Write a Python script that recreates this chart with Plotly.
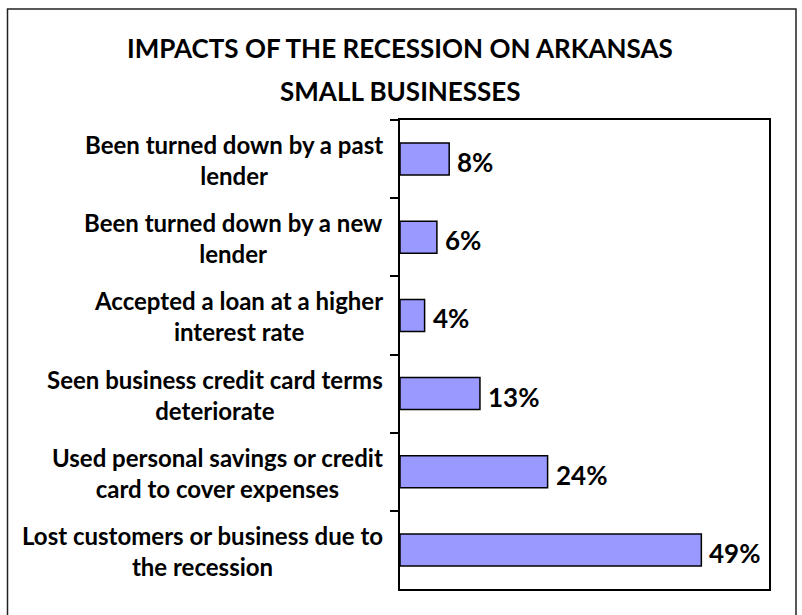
import plotly.graph_objects as go

# Survey results: share of Arkansas small businesses reporting each impact
categories = [
    "Been turned down by a past<br>lender",
    "Been turned down by a new<br>lender",
    "Accepted a loan at a higher<br>interest rate",
    "Seen business credit card terms<br>deteriorate",
    "Used personal savings or credit<br>card to cover expenses",
    "Lost customers or business due to<br>the recession",
]
values = [8, 6, 4, 13, 24, 49]
value_labels = ["8%", "6%", "4%", "13%", "24%", "49%"]
title_lines = ["IMPACTS OF THE RECESSION ON ARKANSAS", "SMALL BUSINESSES"]

W, H = 802, 615
L, R, T, B = 400, 33, 120, 26
PW, PH = W - L - R, H - T - B
FONT = "Lato"


def px_x(p):
    return (p - L) / PW


def px_y(p):
    return (H - B - p) / PH


fig = go.Figure()
fig.add_trace(go.Bar(
    x=values,
    y=categories,
    orientation="h",
    marker=dict(color="#9999FF", line=dict(color="#000000", width=1.5)),
    hoverinfo="skip",
))

annotations = []
# category labels, centred line-by-line to the left of the axis
for c in categories:
    annotations.append(dict(
        x=0, xref="paper", xanchor="right", xshift=-15,
        y=c, yref="y", yanchor="middle", yshift=-1,
        text=c, align="center", showarrow=False,
        font=dict(family=FONT, size=24, color="#000000", weight="bold"),
    ))
# value labels at the end of each bar
for c, v, t in zip(categories, values, value_labels):
    annotations.append(dict(
        x=v, xref="x", xanchor="left", xshift=6,
        y=c, yref="y", yanchor="middle", yshift=-3,
        text=t, showarrow=False,
        font=dict(family=FONT, size=26, color="#000000", weight="bold"),
    ))
# two-line title
for line, yp in zip(title_lines, [48, 91]):
    annotations.append(dict(
        x=0, xref="paper", xanchor="center",
        y=px_y(yp), yref="paper", yanchor="middle",
        text=line, showarrow=False,
        font=dict(family=FONT, size=26, color="#000000", weight="bold"),
    ))

fig.update_layout(
    width=W, height=H,
    margin=dict(l=L, r=R, t=T, b=B, pad=0),
    paper_bgcolor="white", plot_bgcolor="white",
    showlegend=False,
    bargap=0.59,
    annotations=annotations,
    shapes=[dict(
        type="rect", xref="paper", yref="paper", layer="above",
        x0=px_x(7.5), x1=px_x(796), y0=px_y(625), y1=px_y(9),
        line=dict(color="#222222", width=1.5), fillcolor="rgba(0,0,0,0)",
    )],
    xaxis=dict(
        range=[0, 60], showgrid=False, zeroline=False,
        showticklabels=False, ticks="",
        showline=True, linecolor="#000000", linewidth=2, mirror=True,
    ),
    yaxis=dict(
        autorange="reversed", showgrid=False, zeroline=False,
        showticklabels=False, ticks="outside", tickson="boundaries",
        ticklen=8, tickwidth=1.5, tickcolor="#000000",
        showline=True, linecolor="#000000", linewidth=2, mirror=True,
    ),
)

fig.write_html("out.html")
